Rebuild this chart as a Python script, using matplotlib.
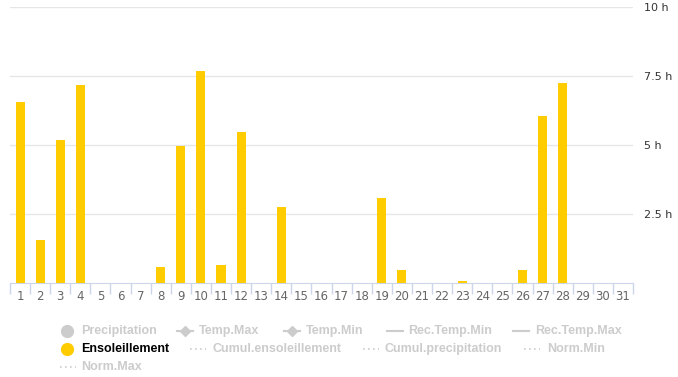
import matplotlib.pyplot as plt
from matplotlib.lines import Line2D

days = list(range(1, 32))
sunshine = [6.57, 1.56, 5.18, 7.17, 0, 0, 0, 0.59, 4.96, 7.68, 0.65, 5.47, 0, 2.75, 0,
            0, 0, 0, 3.08, 0.47, 0, 0, 0.07, 0, 0, 0.47, 6.05, 7.26, 0, 0, 0]
yticks = [2.5, 5, 7.5, 10]
ylabels = ["2.5 h", "5 h", "7.5 h", "10 h"]

W, H = 678, 377
fig = plt.figure(figsize=(W / 100, H / 100), dpi=100)
ax = fig.add_axes([10 / W, 1 - 283 / H, 623 / W, 276 / H])

x = list(range(len(days)))
ax.bar(x, sunshine, width=0.45, color="#ffcc00", zorder=3)

ax.set_xlim(-0.5, 30.5)
ax.set_ylim(0, 10)
ax.set_xticks(x)
ax.set_xticklabels([str(d) for d in days], fontsize=8.5, color="#666666")
ax.set_xticks([i - 0.5 for i in range(len(days) + 1)], minor=True)
ax.tick_params(axis="x", which="major", length=0, pad=5)
ax.tick_params(axis="x", which="minor", length=8, color="#ccd6eb", width=1)

ax.yaxis.tick_right()
ax.set_yticks(yticks)
ax.set_yticklabels(ylabels, fontsize=8, color="#333333")
ax.tick_params(axis="y", length=0, pad=8)
ax.grid(axis="y", color="#e6e6e6", linewidth=1, zorder=0)

for s in ["top", "left", "right"]:
    ax.spines[s].set_visible(False)
ax.spines["bottom"].set_color("#ccd6eb")

# legend
grey = "#cccccc"
font = dict(fontsize=9, fontweight="bold", family="Liberation Sans", va="center")


def fx(px):
    return px / W


def fy(py):
    return 1 - py / H


def item(kind, mx, tx, py, label, active=False):
    col = "#ffcc00" if active else grey
    if kind == "circle":
        fig.add_artist(Line2D([fx(mx)], [fy(py)], marker="o", markersize=8.5,
                              color=col, transform=fig.transFigure))
    elif kind == "diamond":
        fig.add_artist(Line2D([fx(mx - 8), fx(mx + 8)], [fy(py), fy(py)], color=grey,
                              linewidth=1.5, transform=fig.transFigure))
        fig.add_artist(Line2D([fx(mx)], [fy(py)], marker="D", markersize=5,
                              color=grey, transform=fig.transFigure))
    elif kind == "line":
        fig.add_artist(Line2D([fx(mx - 8), fx(mx + 8)], [fy(py), fy(py)], color=grey,
                              linewidth=1.5, transform=fig.transFigure))
    elif kind == "dot":
        fig.add_artist(Line2D([fx(mx - 8), fx(mx + 8)], [fy(py), fy(py)], color=grey,
                              linewidth=1.2, linestyle=(0, (1, 2)), transform=fig.transFigure))
    fig.text(fx(tx), fy(py), label, color="#000000" if active else grey, **font)


item("circle", 67, 81, 331, "Precipitation")
item("diamond", 185, 199, 331, "Temp.Max")
item("diamond", 292, 306, 331, "Temp.Min")
item("line", 395, 408, 331, "Rec.Temp.Min")
item("line", 521, 535, 331, "Rec.Temp.Max")
item("circle", 67, 81, 349, "Ensoleillement", active=True)
item("dot", 198, 212, 349, "Cumul.ensoleillement")
item("dot", 371, 385, 349, "Cumul.precipitation")
item("dot", 532, 547, 349, "Norm.Min")
item("dot", 68, 81, 367, "Norm.Max")

fig.savefig("out.png", dpi=100)
